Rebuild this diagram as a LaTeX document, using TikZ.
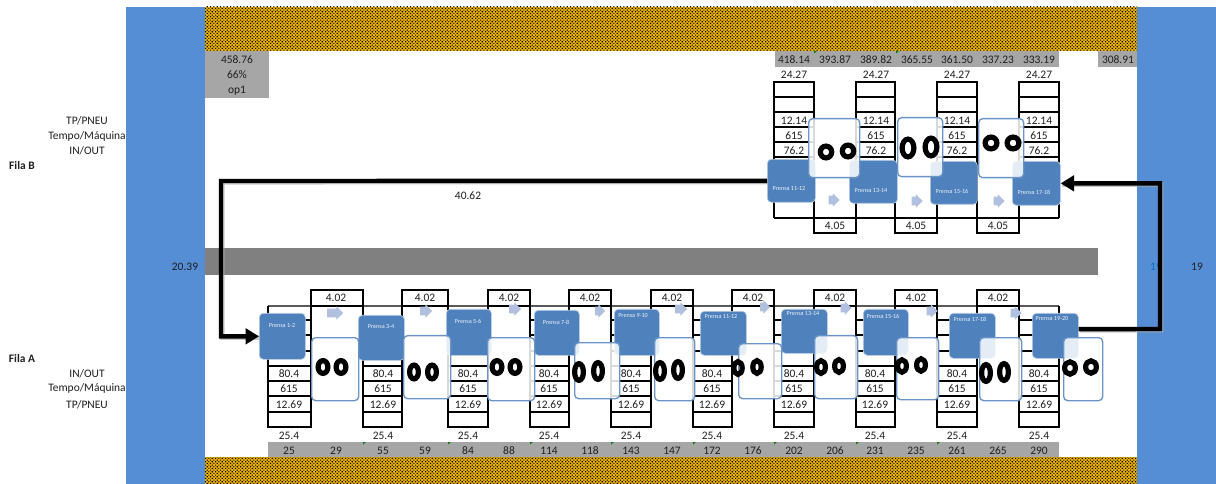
\documentclass[tikz,border=0pt]{standalone}
\usepackage{fontspec}
\setmainfont{Carlito}
\usetikzlibrary{patterns,shapes.arrows,arrows.meta,calc}
\definecolor{sideblue}{HTML}{558ED5}
\definecolor{pressblue}{HTML}{4F81BD}
\definecolor{lightarrow}{HTML}{B0C0DE}
\definecolor{gold}{HTML}{E8AE00}
\definecolor{graystrip}{HTML}{A6A6A6}
\definecolor{txt}{HTML}{1F1F1F}
\definecolor{gridgreen}{HTML}{0E7A0E}
\definecolor{bluetext}{HTML}{0070C0}
\pgfdeclarepatternformonly{goldchk}{\pgfqpoint{-0.05pt}{-0.05pt}}{\pgfqpoint{2.6pt}{2.6pt}}{\pgfqpoint{2.5pt}{2.5pt}}{
  \pgfpathrectangle{\pgfqpoint{0pt}{0pt}}{\pgfqpoint{.85pt}{.85pt}}
  \pgfpathrectangle{\pgfqpoint{1.25pt}{1.25pt}}{\pgfqpoint{.85pt}{.85pt}}
  \pgfusepath{fill}}
\tikzset{
  num/.style={font=\fontsize{8.6pt}{9pt}\selectfont,text=txt,inner sep=0pt},
  side/.style={font=\fontsize{8.6pt}{9pt}\selectfont,text=txt,inner sep=0pt},
  presslabel/.style={font=\fontsize{4.6pt}{5pt}\selectfont,text=white!90!pressblue,inner sep=0pt},
  pressbox/.style={draw=pressblue!40,line width=0.5pt,fill=pressblue,rounded corners=3pt,inner sep=0pt},
  opbox/.style={draw=pressblue!85,line width=1pt,fill=white,fill opacity=0.85,rounded corners=3pt,inner sep=0pt},
  eye/.style={draw=black,line width=3.9pt,fill=none},
  thickline/.style={draw=black,line width=1.6pt},
  rowline/.style={draw=black,line width=1pt},
  flow/.style={draw=black,line width=3.3pt,-{Triangle[length=10pt,width=11.5pt]}},
  flowshadow/.style={draw=black!35,line width=3.3pt,opacity=.6},
  smallarrow/.style={single arrow,fill=lightarrow,draw=none,inner sep=0pt,single arrow head extend=1.5pt,minimum height=#1,minimum width=10pt},
  hatch/.style={fill=gold,postaction={pattern=goldchk,pattern color=black}},
}
\newcommand{\pressnode}[7]{% name x1 y1 x2 y2 label (x,y)
  \node[pressbox,anchor=north west,minimum width={(#4-#2)*0.75pt},minimum height={(#5-#3)*0.75pt}] (#1) at (#2,#3) {};
  \node[presslabel] (#1t) at (#7) {#6};}
\newcommand{\opnode}[5]{\node[opbox,anchor=north west,minimum width={(#4-#2)*0.75pt},minimum height={(#5-#3)*0.75pt}] (#1) at (#2,#3) {};}
\newcommand{\eyes}[6]{% x1 y1 x2 y2 rx ry (centreline)
  \draw[eye] (#1,#2) ellipse [x radius=#5,y radius=#6];
  \draw[eye] (#3,#4) ellipse [x radius=#5,y radius=#6];}
\begin{document}
\begin{tikzpicture}[x=0.75pt,y=-0.75pt]
\useasboundingbox (0,0) rectangle (1216,484);
% backgrounds
\fill[white] (0,0) rectangle (1216,484);
\fill[sideblue] (126,7) rectangle (205,484);
\fill[sideblue] (1137,7) rectangle (1216,484);
\path[hatch] (205,7) rectangle (1137,51);
\path[hatch] (205,457) rectangle (1137,484);
\fill[gray] (205,248) rectangle (1098,275);
\fill[graystrip] (205,51) rectangle (269,98);
\fill[graystrip] (775,51) rectangle (1059,67);
\fill[graystrip] (1098,51) rectangle (1137,67);
\fill[graystrip] (268,442) rectangle (1059,457);
% green corner marks
\foreach \x in {814,896} \fill[gridgreen] (\x,51) -- ++(3,0) -- ++(-3,2.5) -- cycle;
\foreach \x in {363,448,530,611,693,774,856,937} \fill[gridgreen] (\x,442) -- ++(3,0) -- ++(-3,2.5) -- cycle;
% Row A tables
\foreach \l/\r in {268/311,363/402,448/488,530/569,611/651,693/732,774/814,856/895,937/977,1019/1059}{
  \draw[draw=black!65,line width=1pt] (\l,306) -- (\r,306);
  \foreach \y in {320,335,351,366,381,396,412} \draw[rowline] (\l,\y) -- (\r,\y);
  \draw[thickline] (\l,306) -- (\l,427) -- (\r,427) -- (\r,306);
}
\foreach \l/\r in {311/363,402/448,488/530,569/611,651/693,732/774,814/856,895/937,977/1019}{
  \draw[thickline] (\l,306) -- (\l,290) -- (\r,290) -- (\r,306) -- cycle;
}
\foreach \x/\v in {336/4.02,425/4.02,509/4.02,590/4.02,672/4.02,753/4.02,835/4.02,916/4.02,998/4.02}
  \node[num] at (\x,298) {\v};
\foreach \x in {289,383,468,549,631,712,794,875,957,1039}{
  \node[num] at (\x,373.5) {80.4};
  \node[num] at (\x,388.5) {615};
  \node[num] at (\x,404.5) {12.69};
  \node[num] at (\x,435.5) {25.4};
}
\foreach \x/\v in {289/25,336/29,383/55,425/59,468/84,509/88,549/114,590/118,631/143,672/147,712/172,753/176,794/202,835/206,875/231,916/235,957/261,998/265,1039/290}
  \node[num] at (\x,450.5) {\v};
% Row B tables
\foreach \l/\r in {774/814,856/895,937/977,1019/1059}{
  \foreach \y in {97,112,127,142,157} \draw[rowline] (\l,\y) -- (\r,\y);
  \draw[thickline] (\l,218) -- (\l,82) -- (\r,82) -- (\r,218);
}
\draw[thickline] (774,218) -- (1059,218);
\foreach \l/\r in {814/856,895/937,977/1019}
  \draw[thickline] (\l,218) -- (\l,233) -- (\r,233) -- (\r,218);
\foreach \x in {835,916,998} \node[num] at (\x,225.5) {4.05};
\foreach \x in {794,876,957,1039}{
  \node[num] at (\x,74.5) {24.27};
  \node[num] at (\x,120.5) {12.14};
  \node[num] at (\x,135.5) {615};
  \node[num] at (\x,150.5) {76.2};
}
\foreach \x/\v in {794/418.14,835/393.87,876/389.82,917/365.55,957/361.50,998/337.23,1039/333.19,1118/308.91}
  \node[num] at (\x,59.5) {\v};
\node[num] at (237,59.5) {458.76};
\node[num] at (237,74.5) {66\%};
\node[num] at (237,90.5) {op1};
% small arrows
\foreach \x/\y/\w in {333/313/16,424/311/12,513/309/12,598/311/10,679/309/12,763/307/10,844/308/11,930/311/11,1014/313/11,832/200/11,915/201/11,997/201/11}
  \node[smallarrow=\w*0.75pt] at (\x,\y) {\rule{0pt}{5pt}};
% presses
\pressnode{p12}{259}{313}{305}{359}{Prensa 1-2}{282,326}
\pressnode{p34}{358}{315}{404}{360}{Prensa 3-4}{381,327}
\pressnode{p56}{446}{309}{491}{355}{Prensa 5-6}{468,321}
\pressnode{p78}{534}{310}{579}{355}{Prensa 7-8}{556,322}
\pressnode{p910}{614}{309}{659}{355}{Prensa 9-10}{633,316}
\pressnode{p1112a}{700}{311}{746}{355}{Prensa 11-12}{721,317}
\pressnode{p1314a}{781}{309}{827}{353}{Prensa 13-14}{803,314}
\pressnode{p1516a}{863}{309}{908}{355}{Prensa 15-16}{883,316}
\pressnode{p1718a}{949}{313}{995}{358}{Prensa 17-18}{970,319}
\pressnode{p1920}{1032}{313}{1078}{358}{Prensa 19-20}{1052,319}
\pressnode{p1112b}{767}{159}{815}{202}{Prensa 11-12}{789,189}
\pressnode{p1314b}{849}{160}{897}{203}{Prensa 13-14}{871,191}
\pressnode{p1516b}{930}{161}{977}{204}{Prensa 15-16}{952,191}
\pressnode{p1718b}{1012}{161}{1060}{205}{Prensa 17-18}{1034,192}
% operators
\opnode{oa1}{311}{337}{358}{400}
\opnode{oa2}{403}{335}{450}{398}
\opnode{oa3}{487}{337}{534}{400}
\opnode{oa4}{574}{342}{619}{398}
\opnode{oa5}{654}{337}{694}{400}
\opnode{oa6}{738}{343}{781}{398}
\opnode{oa7}{814}{335}{857}{398}
\opnode{oa8}{896}{337}{938}{399}
\opnode{oa9}{979}{337}{1021}{400}
\opnode{oa10}{1063}{337}{1102}{400}
\opnode{ob1}{808}{118}{859}{177}
\opnode{ob2}{897}{117}{942}{176}
\opnode{ob3}{978}{118}{1023}{177}
% eyes
\eyes{323}{367}{341}{367}{4.9}{6.4}
\eyes{414}{372}{432}{372}{4.4}{6.9}
\eyes{497}{367}{515}{367}{4.9}{6.4}
\eyes{579}{372}{598}{371}{4.4}{8.4}
\eyes{660}{371}{678}{370}{4.4}{8.4}
\eyes{738}{368}{757}{367}{4.2}{6.4}
\eyes{821}{367}{839}{366}{4.4}{6.4}
\eyes{902}{366}{921}{365}{4.4}{6.2}
\eyes{986}{373}{1004}{372}{4.4}{8.4}
\eyes{1070}{368}{1091}{367}{5.4}{6.2}
\eyes{826}{152}{848}{151}{5.7}{5.9}
\eyes{908}{148}{931}{147}{5.9}{8.9}
\eyes{991}{143}{1013}{143}{5.9}{5.9}
\node[num,text=bluetext] at (1156,267) {19};
% flow connectors
\coordinate (bendL) at (221,181);
\coordinate (bendR) at (1160,329);
\draw[flowshadow,transform canvas={xshift=1pt,yshift=-1pt}] (p1112b.west) -- (bendL) |- (p12.west);
\draw[flow] (p1112b.west) -- (bendL) |- (p12.west);
\draw[flowshadow,transform canvas={xshift=1pt,yshift=-1pt}] ([yshift=5pt]p1920.east) -- (bendR) |- (p1718b.east);
\draw[flow] ([yshift=5pt]p1920.east) -- (bendR) |- (p1718b.east);
% labels
\node[side] at (87,121) {TP/PNEU};
\node[side] at (87,136) {Tempo/Máquina};
\node[side] at (87,151) {IN/OUT};
\node[side,font=\fontsize{8.6pt}{9pt}\selectfont\bfseries] at (22,165.5) {Fila B};
\node[side,font=\fontsize{8.6pt}{9pt}\selectfont\bfseries] at (22,358.5) {Fila A};
\node[side] at (87,373.5) {IN/OUT};
\node[side] at (87,388.5) {Tempo/Máquina};
\node[side] at (87,404.5) {TP/PNEU};
\node[num] at (185,267) {20.39};
\node[num] at (468,195.5) {40.62};
\node[num] at (1197,267) {19};
\end{tikzpicture}
\end{document}
